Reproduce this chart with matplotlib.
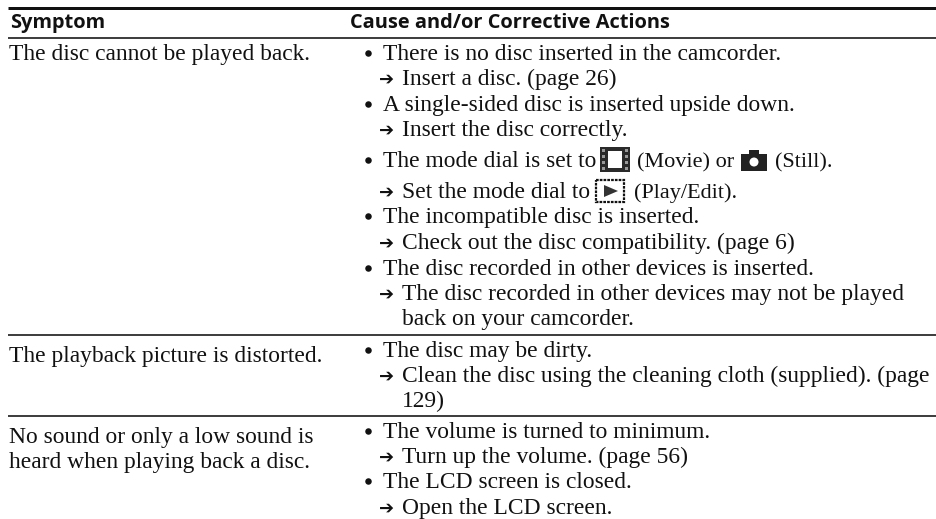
import matplotlib
matplotlib.use('Agg')
import matplotlib.pyplot as plt
from matplotlib.patches import Rectangle, Polygon, Circle

W, H = 937, 519
SERIF = 'Liberation Serif'
SANS = 'Open Sans'
INK = '#111111'

headers = ["Symptom", "Cause and/or Corrective Actions"]
header_x = [10, 350]

symptoms = [
    "The disc cannot be played back.",
    "The playback picture is distorted.",
    "No sound or only a low sound is",
    "heard when playing back a disc.",
]
symptom_y = [60, 362, 443, 468]

# b = bullet, a = arrow, c = carries on from the line above
kinds = ['b', 'a', 'b', 'a', 'b', 'a', 'b', 'a', 'b', 'a', 'c', 'b', 'a', 'c', 'b', 'a', 'b', 'a']
causes = [
    "There is no disc inserted in the camcorder.",
    "Insert a disc. (page 26)",
    "A single-sided disc is inserted upside down.",
    "Insert the disc correctly.",
    "The mode dial is set to",
    "Set the mode dial to",
    "The incompatible disc is inserted.",
    "Check out the disc compatibility. (page 6)",
    "The disc recorded in other devices is inserted.",
    "The disc recorded in other devices may not be played",
    "back on your camcorder.",
    "The disc may be dirty.",
    "Clean the disc using the cleaning cloth (supplied). (page",
    "129)",
    "The volume is turned to minimum.",
    "Turn up the volume. (page 56)",
    "The LCD screen is closed.",
    "Open the LCD screen.",
]
cause_y = [60, 85, 111, 136, 167, 198, 223, 249, 275, 300, 325, 357, 382, 407, 438, 463, 488, 514]

# pieces of the two lines that have icons in them
icon_text = ["(Movie) or", "(Still).", "(Play/Edit)."]
icon_text_x = [637, 775, 634]
icon_text_y = [167, 167, 198]

rule_y = [7.5, 38, 335, 416]
rule_px = [3, 1.6, 1.6, 1.6]

fig = plt.figure(figsize=(W / 100, H / 100), dpi=100)
ax = fig.add_axes([0, 0, 1, 1])
ax.set_xlim(0, W)
ax.set_ylim(H, 0)
ax.axis('off')


def px(n):
    return n * 72 / 100


for y, n in zip(rule_y, rule_px):
    ax.plot([8, W], [y, y], color=INK, lw=px(n), solid_capstyle='butt')

for s, x in zip(headers, header_x):
    ax.text(x, 28, s, family=SANS, weight='bold', fontsize=14.4, va='baseline', color=INK)

for s, y in zip(symptoms, symptom_y):
    ax.text(9, y, s, family=SERIF, fontsize=16.9, va='baseline', color=INK)

for kind, s, y in zip(kinds, causes, cause_y):
    if kind == 'b':
        ax.plot([368], [y - 7], 'o', color=INK, ms=px(6.5), mew=0)
        ax.text(383, y, s, family=SERIF, fontsize=16.9, va='baseline', color=INK)
    else:
        if kind == 'a':
            ax.text(387, y - 5, "\u2794", family='DejaVu Sans', weight='bold', fontsize=13,
                    ha='center', va='center', color=INK)
        ax.text(402, y, s, family=SERIF, fontsize=16.9, va='baseline', color=INK)

for s, x, y in zip(icon_text, icon_text_x, icon_text_y):
    ax.text(x, y, s, family=SERIF, fontsize=16, va='baseline', color=INK)

# film icon
ax.add_patch(Rectangle((600, 147), 30, 25, fc='#2a2a2a', ec='none'))
ax.add_patch(Rectangle((608, 151), 14, 17, fc='white', ec='none'))
for i in range(4):
    ax.add_patch(Rectangle((602, 149 + i * 6), 3, 2.5, fc='#999999', ec='none'))
    ax.add_patch(Rectangle((625, 149 + i * 6), 3, 2.5, fc='#999999', ec='none'))

# camera icon
ax.add_patch(Rectangle((741, 154), 26, 17, fc='#222222', ec='none'))
ax.add_patch(Rectangle((749, 150), 10, 5, fc='#222222', ec='none'))
ax.add_patch(Circle((754, 162), 4.5, fc='white', ec='none'))

# play icon
ax.add_patch(Rectangle((596, 180), 28, 22, fc='white', ec=INK, lw=1.6, ls=(0, (1.2, 0.5))))
ax.add_patch(Polygon([(604, 185), (604, 197), (618, 191)], fc='#333333', ec='none'))

fig.savefig('out.png', dpi=100)
